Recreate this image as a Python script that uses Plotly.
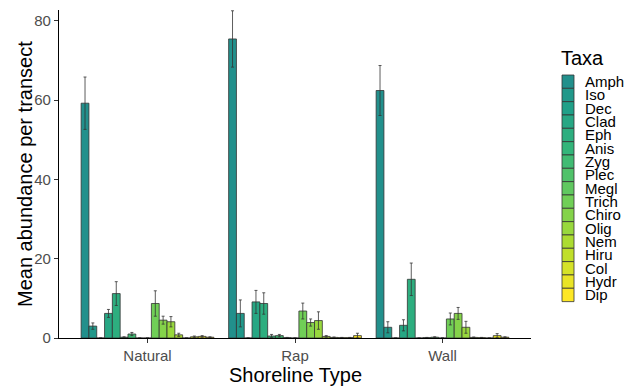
import plotly.graph_objects as go
import plotly.colors as pc
import numpy as np

taxa = ["Amph", "Iso", "Dec", "Clad", "Eph", "Anis", "Zyg", "Plec", "Megl",
        "Trich", "Chiro", "Olig", "Nem", "Hiru", "Col", "Hydr", "Dip"]
shores = ["Natural", "Rap", "Wall"]

natural_mean = [59.2, 3.0, 0.0, 6.2, 11.2, 0.2, 1.0, 0.0, 0.0, 8.7, 4.5, 4.1, 0.8, 0.0, 0.3, 0.4, 0.2]
natural_se   = [6.6, 0.8, 0.0, 1.0, 3.0, 0.1, 0.4, 0.0, 0.0, 3.2, 1.0, 1.3, 0.4, 0.0, 0.2, 0.2, 0.1]
rap_mean     = [75.4, 6.2, 0.0, 9.1, 8.7, 0.5, 0.6, 0.1, 0.0, 6.8, 3.9, 4.4, 0.4, 0.15, 0.1, 0.1, 0.6]
rap_se       = [7.1, 3.4, 0.0, 2.9, 2.7, 0.4, 0.3, 0.05, 0.0, 2.0, 0.9, 2.2, 0.2, 0.1, 0.05, 0.05, 0.6]
wall_mean    = [62.4, 2.7, 0.0, 3.2, 14.8, 0.0, 0.1, 0.2, 0.0, 4.8, 6.2, 2.7, 0.15, 0.1, 0.0, 0.6, 0.2]
wall_se      = [6.3, 1.4, 0.0, 1.4, 4.1, 0.0, 0.05, 0.1, 0.0, 1.5, 1.5, 1.5, 0.1, 0.05, 0.0, 0.5, 0.1]

y_ticks = [0, 20, 40, 60, 80]

colors = pc.sample_colorscale("Viridis", list(np.linspace(0.5, 1.0, len(taxa))))

fig = go.Figure()
for i, t in enumerate(taxa):
    fig.add_trace(go.Bar(
        name=t, x=shores,
        y=[natural_mean[i], rap_mean[i], wall_mean[i]],
        error_y=dict(type="data", array=[natural_se[i], rap_se[i], wall_se[i]],
                     color="#333333", thickness=0.8, width=1.5),
        marker=dict(color=colors[i], line=dict(color="#333333", width=0.8)),
        showlegend=False,
    ))

# plot geometry (pixels)
W, H = 627, 387
L, R, T, B = 59, 96, 10, 49
pw, ph = W - L - R, H - T - B

def px_x(p):
    return (p - L) / pw

def px_y(p):
    return (H - B - p) / ph

# custom legend
key_top, key_h = 75, 13.33
shapes = []
annotations = []
for i, t in enumerate(taxa):
    y0 = key_top + i * key_h
    shapes.append(dict(type="rect", xref="paper", yref="paper",
                       x0=px_x(562), x1=px_x(574), y0=px_y(y0 + key_h), y1=px_y(y0),
                       fillcolor=colors[i], line=dict(color="#333333", width=0.8)))
    annotations.append(dict(xref="paper", yref="paper", x=px_x(583), y=px_y(y0 + key_h / 2),
                            text=t, showarrow=False, xanchor="left", yanchor="middle",
                            font=dict(size=15, color="black")))
annotations.append(dict(xref="paper", yref="paper", x=px_x(559), y=px_y(58),
                        text="Taxa", showarrow=False, xanchor="left", yanchor="middle",
                        font=dict(size=20, color="black")))
# axis titles placed to match the reference layout
annotations.append(dict(xref="paper", yref="paper", x=px_x(295), y=px_y(375),
                        text="Shoreline Type", showarrow=False, xanchor="center", yanchor="middle",
                        font=dict(size=20, color="black")))
annotations.append(dict(xref="paper", yref="paper", x=px_x(25), y=px_y(174),
                        text="Mean abundance per transect", showarrow=False, textangle=-90,
                        xanchor="center", yanchor="middle",
                        font=dict(size=20, color="black")))

fig.update_layout(
    width=W, height=H,
    margin=dict(l=L, r=R, t=T, b=B, pad=0, autoexpand=False),
    plot_bgcolor="white", paper_bgcolor="white",
    barmode="group", bargap=0.1, bargroupgap=0,
    font=dict(family="Liberation Sans, Arial, sans-serif", color="black"),
    shapes=shapes, annotations=annotations,
    showlegend=False,
)
fig.update_xaxes(
    range=[-0.6, 2.6], showline=True, linecolor="black", linewidth=1.3,
    ticks="outside", ticklen=4, tickcolor="#333333", tickwidth=1,
    tickfont=dict(size=15, color="#4D4D4D"), automargin=False,
    showgrid=False, zeroline=False,
)
fig.update_yaxes(
    range=[0, 82.7], showline=True, linecolor="black", linewidth=1.3,
    ticks="outside", ticklen=4, tickcolor="#333333", tickwidth=1,
    tickvals=y_ticks, tickfont=dict(size=15, color="#4D4D4D"), automargin=False,
    showgrid=False, zeroline=False,
)

fig.write_html("out.html", config={"displayModeBar": False},
               post_script="document.body.style.margin='0';document.body.style.overflow='hidden';")
